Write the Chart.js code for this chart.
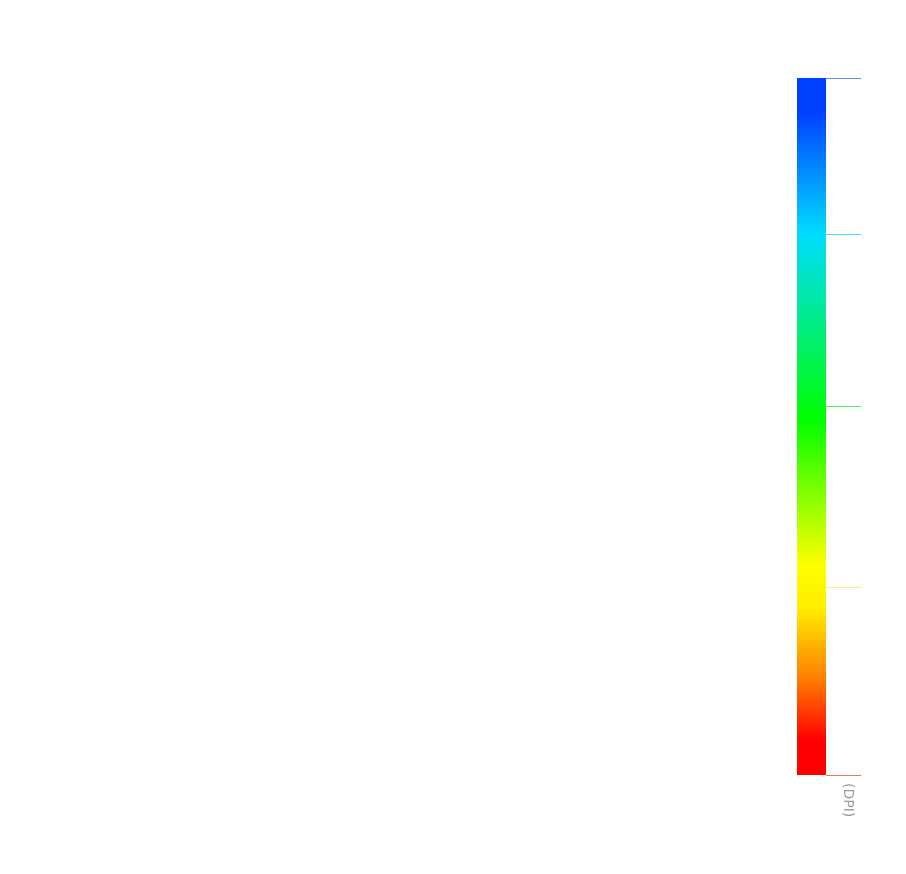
<!DOCTYPE html>
<html>
<head>
<meta charset="utf-8">
<script src="https://cdn.jsdelivr.net/npm/chart.js@4/dist/chart.umd.min.js"></script>
<style>
  body { margin: 0; background: #fff; }
</style>
</head>
<body>
<canvas id="dpiChart" width="906" height="874"></canvas>
<script>
// legenda DPI (barra colori)

var categories = ['DPI'];
var barRange = [0, 100];
var tickValues = [0, 27, 53, 77.6, 100];
var tickColors = ['rgba(240,60,60,0.75)', 'rgba(255,215,0,0.5)', 'rgba(20,240,20,0.75)', 'rgba(0,215,255,0.8)', 'rgba(0,64,255,0.6)'];
var stopValues = [0, 5, 13.5, 24, 30, 51, 77.6, 95, 100];
var stopColors = ['#ff0000', '#ff0000', '#ff7a00', '#ffee00', '#ffff00', '#00ff00', '#00dcff', '#0040ff', '#0040ff'];
var unitLabel = '(DPI)';
var tickLen = 35;

function barGradient(ctx) {
    var chart = ctx.chart;
    if (!chart.chartArea) return stopColors[0];
    var y = chart.scales.y;
    var g = chart.ctx.createLinearGradient(0, y.getPixelForValue(barRange[0]), 0, y.getPixelForValue(barRange[1]));
    stopValues.forEach(function (v, i) {
        g.addColorStop((v - barRange[0]) / (barRange[1] - barRange[0]), stopColors[i]);
    });
    return g;
}

// tacche colorate + scritta (DPI) sotto la barra
var scaleMarks = {
    id: 'scaleMarks',
    afterDraw: function (chart) {
        var c = chart.ctx;
        var y = chart.scales.y;
        var x0 = chart.chartArea.right;
        c.save();
        c.lineWidth = 1;
        tickValues.forEach(function (v, i) {
            var py = Math.round(y.getPixelForValue(v)) + 0.5;
            c.strokeStyle = tickColors[i];
            c.beginPath();
            c.moveTo(x0, py);
            c.lineTo(x0 + tickLen, py);
            c.stroke();
        });
        c.translate(x0 + 22, chart.chartArea.bottom + 8);
        c.rotate(Math.PI / 2);
        c.fillStyle = '#999999';
        c.font = '14px "DejaVu Sans", sans-serif';
        c.textBaseline = 'middle';
        c.textAlign = 'left';
        c.fillText(unitLabel, 0, 0);
        c.restore();
    }
};

new Chart('dpiChart', {
    type: 'bar',
    data: {
        labels: categories,
        datasets: [{
            label: unitLabel,
            data: [barRange],
            backgroundColor: barGradient,
            borderWidth: 0,
            barPercentage: 1,
            categoryPercentage: 1
        }]
    },
    plugins: [scaleMarks],
    options: {
        responsive: false,
        animation: false,
        layout: {
            padding: { left: 797, right: 45 + tickLen, top: 78, bottom: 99 }
        },
        plugins: {
            legend: { display: false },
            tooltip: { enabled: false }
        },
        scales: {
            x: { display: false },
            y: {
                display: false,
                min: barRange[0],
                max: barRange[1]
            }
        }
    }
});
</script>
</body>
</html>
